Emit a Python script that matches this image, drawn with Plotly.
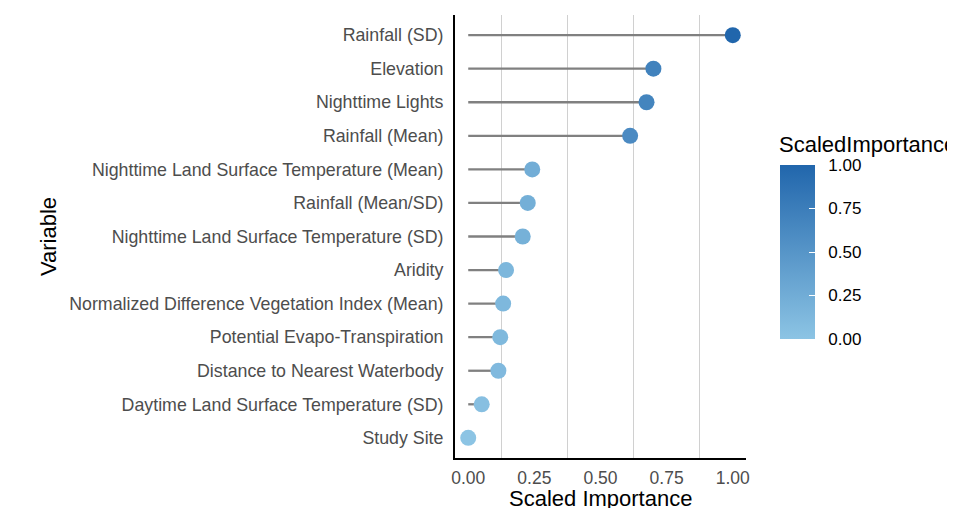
import plotly.graph_objects as go

variables = [
    "Rainfall (SD)",
    "Elevation",
    "Nighttime Lights",
    "Rainfall (Mean)",
    "Nighttime Land Surface Temperature (Mean)",
    "Rainfall (Mean/SD)",
    "Nighttime Land Surface Temperature (SD)",
    "Aridity",
    "Normalized Difference Vegetation Index (Mean)",
    "Potential Evapo-Transpiration",
    "Distance to Nearest Waterbody",
    "Daytime Land Surface Temperature (SD)",
    "Study Site",
]
scaled_importance = [1.00, 0.700, 0.674, 0.612, 0.242, 0.225, 0.206, 0.143, 0.132, 0.121, 0.114, 0.051, 0.0]
x_ticks = [0.0, 0.25, 0.5, 0.75, 1.0]
x_tick_labels = ["0.00", "0.25", "0.50", "0.75", "1.00"]

FONT = "Liberation Sans, Arial, sans-serif"
LOW, HIGH = "#8CC4E4", "#2166AC"

# plot area in page pixels: x 455..746, y 15..458
PW, PH = 291, 443

seg_x, seg_y = [], []
for v, s in zip(variables, scaled_importance):
    seg_x += [0, s, None]
    seg_y += [v, v, None]

fig = go.Figure()
fig.add_trace(go.Scatter(
    x=seg_x, y=seg_y, mode="lines",
    line=dict(color="#808080", width=2.3),
    hoverinfo="skip", showlegend=False,
))
fig.add_trace(go.Scatter(
    x=scaled_importance, y=variables, mode="markers",
    marker=dict(
        size=16, color=scaled_importance, cmin=0, cmax=1,
        colorscale=[[0, LOW], [1, HIGH]],
        line=dict(width=0),
        colorbar=dict(
            x=(780 - 455) / PW, xanchor="left", xref="paper",
            y=(458 - 339) / PH, yanchor="bottom",
            len=174, lenmode="pixels", thickness=35,
            outlinewidth=0, xpad=0, ypad=0,
            tickvals=x_ticks, ticktext=["\u00a0\u00a0" + t for t in x_tick_labels],
            ticks="inside", ticklen=6, tickcolor="white", tickwidth=1,
            tickfont=dict(family=FONT, size=17, color="black"),
        ),
    ),
    showlegend=False,
))

# page has an 8px body margin, so margins are shifted accordingly
fig.update_layout(
    width=955, height=508,
    margin=dict(l=447, r=217, t=7, b=58, autoexpand=False),
    plot_bgcolor="white", paper_bgcolor="white",
    font=dict(family=FONT, color="black"),
    annotations=[
        dict(text="ScaledImportance", xref="paper", yref="paper",
             x=(778 - 455) / PW, y=(458 - 145) / PH, xanchor="left", yanchor="middle",
             showarrow=False, borderpad=0, font=dict(family=FONT, size=22, color="black")),
        dict(text="Scaled Importance", xref="paper", yref="paper",
             x=0.5, y=-(498 - 458) / PH, xanchor="center", yanchor="middle",
             showarrow=False, borderpad=0, font=dict(family=FONT, size=22, color="black")),
    ],
)
fig.update_xaxes(
    range=[-0.05, 1.05],
    tickvals=x_ticks, ticktext=x_tick_labels,
    tickfont=dict(family=FONT, size=17.5, color="#4D4D4D"),
    showgrid=False, zeroline=False,
    minor=dict(showgrid=True, tick0=0.125, dtick=0.25, gridcolor="#D0D0D0", gridwidth=1.2),
    showline=True, linecolor="black", linewidth=2,
    ticks="outside", ticklen=3, tickcolor="rgba(0,0,0,0)",
)
fig.update_yaxes(
    categoryorder="array", categoryarray=variables[::-1],
    range=[-0.6, len(variables) - 0.4],
    tickfont=dict(family=FONT, size=17.8, color="#4D4D4D"),
    showgrid=False, zeroline=False,
    showline=True, linecolor="black", linewidth=2,
    ticks="outside", ticklen=6, tickcolor="rgba(0,0,0,0)",
    title=dict(text="Variable", font=dict(family=FONT, size=22, color="black"), standoff=6),
)

fig.write_html("out.html")
